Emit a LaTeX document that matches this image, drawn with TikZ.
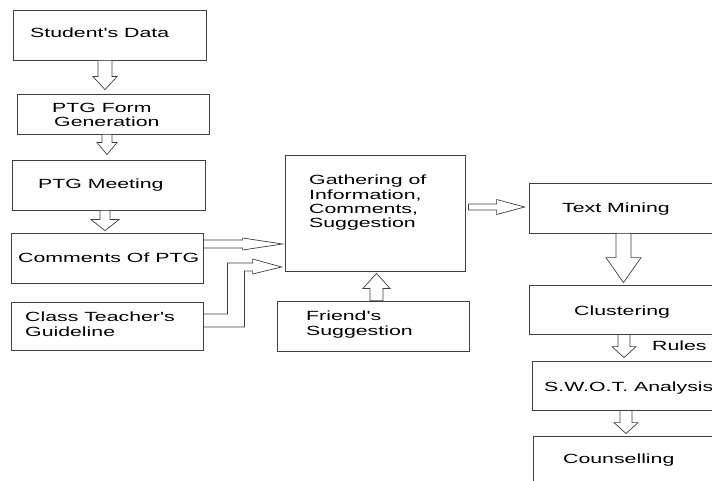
\documentclass[tikz,border=0pt]{standalone}
\usepackage{fontspec}
\setmainfont{Liberation Sans}[FakeStretch=1.6, Ligatures=TeXOff]
\usetikzlibrary{calc}
\tikzset{
  box/.style={draw=black!75, line width=0.8pt, rectangle, inner sep=0pt},
  conn/.style={draw=black!75, line width=0.7pt, fill=white, line join=miter},
  txt/.style={anchor=base west, inner sep=0pt, align=left, font=\fontsize{13.3pt}{14.4pt}\selectfont}
}
\newcommand\darr[5]{%
  \draw[conn] let \p1=(#1), \p2=(#2) in
  (\x2-#3,\y1) -- (\x2-#3,\y2+#5) -- (\x2-#4,\y2+#5) -- (\x2,\y2) --
  (\x2+#4,\y2+#5) -- (\x2+#3,\y2+#5) -- (\x2+#3,\y1) -- cycle;}
\newcommand\uarr[5]{%
  \draw[conn] let \p1=(#1), \p2=(#2) in
  (\x2-#3,\y1) -- (\x2-#3,\y2-#5) -- (\x2-#4,\y2-#5) -- (\x2,\y2) --
  (\x2+#4,\y2-#5) -- (\x2+#3,\y2-#5) -- (\x2+#3,\y1) -- cycle;}
\newcommand\rarr[5]{%
  \draw[conn] let \p1=(#1), \p2=(#2) in
  (\x1,\y2+#3) -- (\x2-#5,\y2+#3) -- (\x2-#5,\y2+#4) -- (\x2,\y2) --
  (\x2-#5,\y2-#4) -- (\x2-#5,\y2-#3) -- (\x1,\y2-#3) -- cycle;}
\begin{document}
\begin{tikzpicture}[x=1pt,y=-1pt]
\useasboundingbox (0,0) rectangle (712,481);
\fill[white] (0,0) rectangle (712,481);
\clip (0,0) rectangle (712,481);

% boxes
\node[box, minimum width=193pt, minimum height=50pt] (sd) at (109.5,35) {};
\node[box, minimum width=192pt, minimum height=40pt] (pf) at (113,114) {};
\node[box, minimum width=193pt, minimum height=50pt] (pm) at (108.5,185) {};
\node[box, minimum width=192pt, minimum height=50pt] (cp) at (107,258) {};
\node[box, minimum width=192pt, minimum height=48pt] (ct) at (107,326) {};
\node[box, minimum width=180pt, minimum height=116pt] (ga) at (375,213) {};
\node[box, minimum width=192pt, minimum height=50pt] (fs) at (373,326) {};
\node[box, minimum width=231pt, minimum height=50pt] (tm) at (644.5,208) {};
\node[box, minimum width=231pt, minimum height=49pt] (cl) at (644.5,309.5) {};
\node[box, minimum width=228pt, minimum height=49pt] (sw) at (646,385.5) {};
\node[box, minimum width=227pt, minimum height=84pt] (co) at (646.5,478) {};

% texts (base anchor = baseline of the last line)
\node[txt] (tsd) at (30,38) {Student's Data};
\node[txt] (tpf) at (52,127) {PTG Form\\\hspace*{2pt}Generation};
\node[txt] (tpm) at (38,189) {PTG Meeting};
\node[txt] (tcp) at (18,262) {Comments Of PTG};
\node[txt] (tct) at (25,336) {Class Teacher's\\Guideline};
\node[txt] (tga) at (309,228) {Gathering of\\Information,\\Comments,\\Suggestion};
\node[txt] (tfs) at (306,335) {Friend's\\Suggestion};
\node[txt] (ttm) at (562,213) {Text Mining};
\node[txt] (tcl) at (574,315) {Clustering};
\node[txt] (tru) at (652,350) {Rules};
\node[txt] (tsw) at (544,391) {S.W.O.T. Analysis};
\node[txt] (tco) at (563,463) {Counselling};

% vertical hollow arrows
\darr{$(sd.south)+(-4.5,0)$}{$(pf.north)+(-8,-4)$}{7pt}{12pt}{13pt}
\darr{$(pf.south)+(-6,0)$}{$(pm.north)+(-1.5,-5)$}{5pt}{10pt}{12pt}
\darr{$(pm.south)+(-3.5,0)$}{$(cp.north)+(-2,-2)$}{5pt}{14pt}{11pt}
\uarr{$(fs.north)+(3.5,0)$}{$(ga.south)+(1.5,2)$}{6.5pt}{13.5pt}{15pt}
\darr{$(tm.south)+(-21,0)$}{$(cl.north)+(-21,-2)$}{7.5pt}{17.5pt}{25pt}
\darr{$(cl.south)+(-20.5,0)$}{$(sw.north)+(-22,-3)$}{6pt}{12pt}{11pt}
\darr{$(sw.south)+(-20,0)$}{$(co.north)+(-20.5,-2)$}{6pt}{12pt}{11pt}

% horizontal hollow arrows
\rarr{$(cp.east)+(0,-14)$}{$(ga.west)+(-2,31)$}{4pt}{6pt}{40pt}
\rarr{$(ga.east)+(3,0)$}{$(tm.west)+(-4,-1)$}{3pt}{7.5pt}{28pt}

% elbow hollow arrow
\draw[conn] let \p1=(ct.east), \p2=(ga.west) in
  (\x1,\y1+12pt) -- (\x1+24pt,\y1+12pt) -- (\x1+24pt,\y2-50pt) -- (\x2-32pt,\y2-50pt)
  -- (\x2-32pt,\y2-46pt) -- (\x2-3pt,\y2-54pt) -- (\x2-32pt,\y2-61pt) -- (\x2-32pt,\y2-58pt)
  -- (\x1+41pt,\y2-58pt) -- (\x1+41pt,\y1-1pt) -- (\x1,\y1-1pt) -- cycle;
\end{tikzpicture}
\end{document}
